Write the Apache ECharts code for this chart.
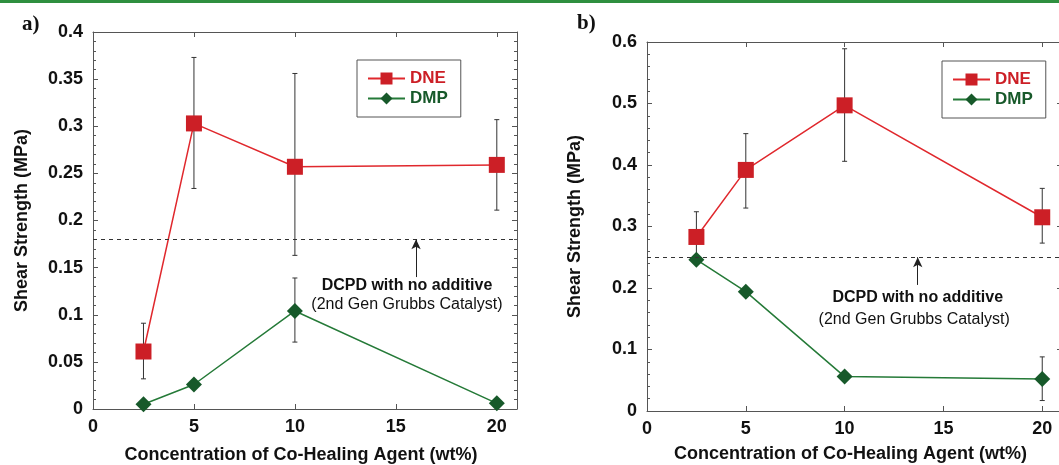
<!DOCTYPE html>
<html>
<head>
<meta charset="utf-8">
<script src="https://cdn.jsdelivr.net/npm/echarts@6/dist/echarts.min.js"></script>
<style>
  html, body { margin: 0; padding: 0; background: #fff; }
  #main { width: 1059px; height: 465px; }
</style>
</head>
<body>
<div id="main"></div>
<script>
// co-healing agent concentration (wt%)
var conc = [2.5, 5, 10, 20]

// panel a
var dneA = [0.061, 0.303, 0.257, 0.259]
var dneALow = [0.032, 0.234, 0.163, 0.211]
var dneAHigh = [0.091, 0.373, 0.356, 0.307]
var dmpA = [0.005, 0.026, 0.104, 0.006]
var dmpALow = [null, null, 0.071, null]
var dmpAHigh = [null, null, 0.139, null]
var baseA = 0.18

// panel b
var dneB = [0.283, 0.392, 0.497, 0.315]
var dneBLow = [0.240, 0.330, 0.406, 0.273]
var dneBHigh = [0.324, 0.451, 0.589, 0.362]
var dmpB = [0.246, 0.194, 0.056, 0.052]
var dmpBLow = [null, null, null, 0.017]
var dmpBHigh = [null, null, null, 0.088]
var baseB = 0.25

var RED = '#cc1f26'
var RED_LINE = '#e0282d'
var GREEN = '#17592a'
var GREEN_LINE = '#257a38'
var AXIS = '#555'
var FONT = '"Liberation Sans", Arial, sans-serif'

function pairs(ys) {
  return conc.map(function (x, i) { return [x, ys[i]] })
}
function errData(lo, hi) {
  var out = []
  conc.forEach(function (x, i) {
    if (lo[i] != null) out.push([x, lo[i], hi[i]])
  })
  return out
}

function errorBars(lo, hi, xi, yi) {
  return {
    type: 'custom',
    xAxisIndex: xi,
    yAxisIndex: yi,
    z: 1,
    silent: true,
    data: errData(lo, hi),
    renderItem: function (params, api) {
      var x = api.value(0)
      var a = api.coord([x, api.value(1)])
      var b = api.coord([x, api.value(2)])
      var st = { stroke: '#333', lineWidth: 1 }
      return {
        type: 'group',
        children: [
          { type: 'line', shape: { x1: a[0], y1: a[1], x2: b[0], y2: b[1] }, style: st },
          { type: 'line', shape: { x1: a[0] - 2.5, y1: a[1], x2: a[0] + 2.5, y2: a[1] }, style: st },
          { type: 'line', shape: { x1: b[0] - 2.5, y1: b[1], x2: b[0] + 2.5, y2: b[1] }, style: st }
        ]
      }
    }
  }
}

function xAxes(gi, max, nameGap) {
  var bottom = {
    type: 'value', gridIndex: gi, min: 0, max: max, interval: 5,
    position: 'bottom',
    name: 'Concentration of Co-Healing Agent (wt%)',
    nameLocation: 'middle', nameGap: nameGap,
    nameTextStyle: { fontFamily: FONT, fontWeight: 'bold', fontSize: 18, color: '#111', padding: [0, 8, 0, 0] },
    axisLine: { show: true, onZero: false, lineStyle: { color: AXIS } },
    axisTick: { show: true, inside: true, length: 5, lineStyle: { color: AXIS } },
    axisLabel: {
      margin: 9, fontFamily: FONT, fontWeight: 'bold', fontSize: 18, color: '#111',
      formatter: function (v) { return v % 5 === 0 ? String(v) : '' }
    },
    splitLine: { show: false }
  }
  var top = {
    type: 'value', gridIndex: gi, min: 0, max: max, interval: 5,
    position: 'top',
    axisLine: { show: true, onZero: false, lineStyle: { color: AXIS } },
    axisTick: { show: true, inside: true, length: 5, lineStyle: { color: AXIS } },
    axisLabel: { show: false },
    splitLine: { show: false }
  }
  return [bottom, top]
}

function yAxes(gi, max, interval, nameGap) {
  var left = {
    type: 'value', gridIndex: gi, min: 0, max: max, interval: interval,
    position: 'left',
    name: 'Shear Strength (MPa)',
    nameLocation: 'middle', nameGap: nameGap,
    nameTextStyle: { fontFamily: FONT, fontWeight: 'bold', fontSize: 18, color: '#111' },
    axisLine: { show: true, onZero: false, lineStyle: { color: AXIS } },
    axisTick: { show: true, inside: true, length: 5, lineStyle: { color: AXIS } },
    minorTick: { show: true, splitNumber: 5, length: 3, lineStyle: { color: AXIS } },
    axisLabel: { margin: 10, fontFamily: FONT, fontWeight: 'bold', fontSize: 18, color: '#111' },
    splitLine: { show: false }
  }
  var right = {
    type: 'value', gridIndex: gi, min: 0, max: max, interval: interval,
    position: 'right',
    axisLine: { show: true, onZero: false, lineStyle: { color: AXIS } },
    axisTick: { show: true, inside: true, length: 5, lineStyle: { color: AXIS } },
    minorTick: { show: true, splitNumber: 5, length: 3, lineStyle: { color: AXIS } },
    axisLabel: { show: false },
    splitLine: { show: false }
  }
  return [left, right]
}

function dneSeries(ys, xi, yi, base) {
  return {
    name: 'DNE', type: 'line', xAxisIndex: xi, yAxisIndex: yi, z: 3,
    data: pairs(ys),
    symbol: 'rect', symbolSize: 16,
    itemStyle: { color: RED },
    lineStyle: { color: RED_LINE, width: 1.5 },
    markLine: {
      silent: true, symbol: 'none', animation: false,
      label: { show: false },
      lineStyle: { color: '#333', width: 1, type: [4, 4] },
      data: [{ yAxis: base }]
    }
  }
}

function dmpSeries(ys, xi, yi, arrowX, arrowFrom, base) {
  return {
    name: 'DMP', type: 'line', xAxisIndex: xi, yAxisIndex: yi, z: 3,
    data: pairs(ys),
    symbol: 'diamond', symbolSize: [16, 16],
    itemStyle: { color: GREEN },
    lineStyle: { color: GREEN_LINE, width: 1.5 },
    markLine: {
      silent: true, animation: false,
      symbol: ['none', 'arrow'], symbolSize: [7, 10],
      label: { show: false },
      lineStyle: { color: '#222', width: 1, type: 'solid' },
      data: [[{ coord: [arrowX, arrowFrom] }, { coord: [arrowX, base] }]]
    }
  }
}

function legend(left, top) {
  return {
    left: left, top: top, orient: 'vertical',
    itemWidth: 37, itemHeight: 15, itemGap: 3,
    padding: [10, 13, 10, 10],
    borderColor: AXIS, borderWidth: 1,
    selectedMode: false,
    textStyle: { fontFamily: FONT, fontWeight: 'bold', fontSize: 17 },
    data: [
      { name: 'DNE', textStyle: { color: RED } },
      { name: 'DMP', textStyle: { color: GREEN } }
    ]
  }
}

var chart = echarts.init(document.getElementById('main'))

var option = {
  animation: false,
  backgroundColor: '#fff',
  grid: [
    { left: 93, top: 32, width: 424, height: 377, outerBoundsMode: 'none', containLabel: false },
    { left: 647, top: 42, width: 415, height: 369, outerBoundsMode: 'none', containLabel: false }
  ],
  xAxis: xAxes(0, 21, 37).concat(xAxes(1, 21, 34)),
  yAxis: yAxes(0, 0.4, 0.05, 62).concat(yAxes(1, 0.6, 0.1, 63)),
  legend: [legend(357, 60), legend(942, 61)],
  series: [
    errorBars(dneALow, dneAHigh, 0, 0),
    errorBars(dmpALow, dmpAHigh, 0, 0),
    dneSeries(dneA, 0, 0, baseA),
    dmpSeries(dmpA, 0, 0, 16, 0.14, baseA),
    errorBars(dneBLow, dneBHigh, 2, 2),
    errorBars(dmpBLow, dmpBHigh, 2, 2),
    dneSeries(dneB, 2, 2, baseB),
    dmpSeries(dmpB, 2, 2, 13.7, 0.205, baseB)
  ]
}
chart.setOption(option)

// annotations placed in data space of each panel
function pix(xi, yi, pt) {
  return chart.convertToPixel({ xAxisIndex: xi, yAxisIndex: yi }, pt)
}
function note(p, text, bold) {
  return {
    type: 'text', x: p[0], y: p[1], z: 10,
    style: {
      text: text, align: 'center', verticalAlign: 'middle',
      font: (bold ? 'bold ' : '') + '16px ' + FONT, fill: '#111'
    }
  }
}
var a1 = pix(0, 0, [15.55, 0.131])
var a2 = pix(0, 0, [15.55, 0.111])
var b1 = pix(2, 2, [13.7, 0.185])
var b2 = pix(2, 2, [13.52, 0.149])

chart.setOption({
  graphic: [
    { type: 'rect', shape: { x: 0, y: 0, width: 1059, height: 3 }, style: { fill: '#2f8f3f' } },
    { type: 'text', x: 22, y: 25, style: { text: 'a)', font: 'bold 21px "Liberation Serif", serif', fill: '#111', verticalAlign: 'middle' } },
    { type: 'text', x: 577, y: 24, style: { text: 'b)', font: 'bold 21px "Liberation Serif", serif', fill: '#111', verticalAlign: 'middle' } },
    note(a1, 'DCPD with no additive', true),
    note(a2, '(2nd Gen Grubbs Catalyst)', false),
    note(b1, 'DCPD with no additive', true),
    note(b2, '(2nd Gen Grubbs Catalyst)', false)
  ]
})
</script>
</body>
</html>
